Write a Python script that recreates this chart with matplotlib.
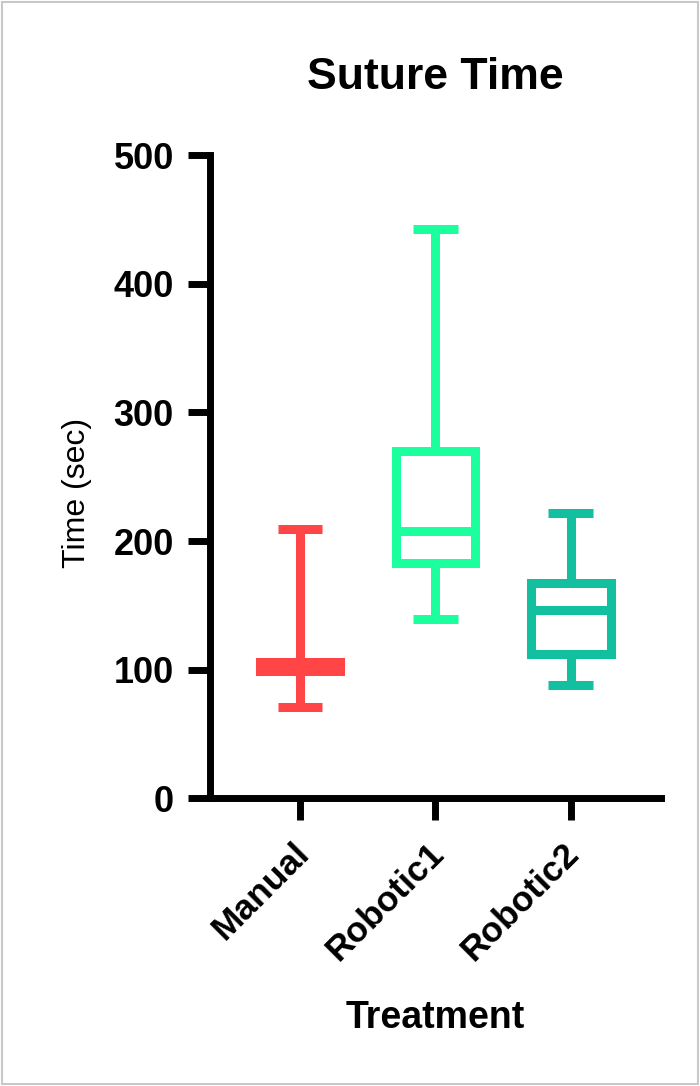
import matplotlib
matplotlib.use("Agg")
import matplotlib.pyplot as plt
import matplotlib.transforms as mtransforms
from matplotlib.patches import Rectangle

# values (seconds)
groups = ["Manual", "Robotic1", "Robotic2"]
whisker_low = [71, 139, 88]
q1 = [99, 183, 112]
median = [102, 208, 146]
q3 = [106, 270, 167]
whisker_high = [209, 443, 222]
colors = ["#FF4545", "#1CFF9E", "#12BF9F"]

plt.rcParams["font.family"] = ["Liberation Sans", "DejaVu Sans"]

fig = plt.figure(figsize=(7.0, 10.86), dpi=100)
ax = fig.add_axes([0.30, 0.265, 0.644, 0.592])

stats = []
for i, name in enumerate(groups):
    stats.append({
        "label": name,
        "whislo": whisker_low[i],
        "q1": q1[i],
        "med": median[i],
        "q3": q3[i],
        "whishi": whisker_high[i],
        "fliers": [],
    })

lw = 6.5
for i, st in enumerate(stats):
    c = colors[i]
    ax.bxp([st], positions=[i], widths=0.59, showfliers=False,
           boxprops=dict(color=c, linewidth=lw, solid_joinstyle="miter"),
           medianprops=dict(color=c, linewidth=lw, solid_capstyle="butt"),
           whiskerprops=dict(color=c, linewidth=lw, solid_capstyle="butt"),
           capprops=dict(color=c, linewidth=lw, solid_capstyle="butt"),
           capwidths=0.33, manage_ticks=False)

ax.set_xlim(-0.667, 2.667)
ax.set_ylim(0, 500)
ax.set_yticks([0, 100, 200, 300, 400, 500])
ax.set_xticks(range(len(groups)))

for side in ["top", "right"]:
    ax.spines[side].set_visible(False)
for side in ["left", "bottom"]:
    ax.spines[side].set_linewidth(5)
ax.tick_params(axis="both", width=5, length=16, color="black")
ax.tick_params(axis="y", pad=10)
ax.tick_params(axis="x", pad=8)

ax.set_xticklabels(groups, rotation=45, ha="right", va="top",
                   rotation_mode="anchor", fontsize=25.5, fontweight="bold")
# nudge the slanted labels a little left and down (after tick_params, which resets transforms)
shift = mtransforms.ScaledTranslation(-8 / 100, -5 / 100, fig.dpi_scale_trans)
for lab in ax.get_xticklabels():
    lab.set_transform(lab.get_transform() + shift)
for lab in ax.get_yticklabels():
    lab.set_fontsize(26)
    lab.set_fontweight("bold")

ax.set_ylabel("Time (sec)", fontsize=23)
ax.yaxis.set_label_coords(-0.262, 0.475)
ax.set_xlabel("Treatment", fontsize=27, fontweight="bold", labelpad=24)
ax.set_title("Suture Time", fontsize=32, fontweight="bold", pad=48)

# light grey frame around the whole picture
fig.patches.append(Rectangle((0.003, 0.002), 0.994, 0.996, transform=fig.transFigure,
                             fill=False, edgecolor="#c8c8c8", linewidth=1.5))

fig.savefig("out.png", dpi=100)
